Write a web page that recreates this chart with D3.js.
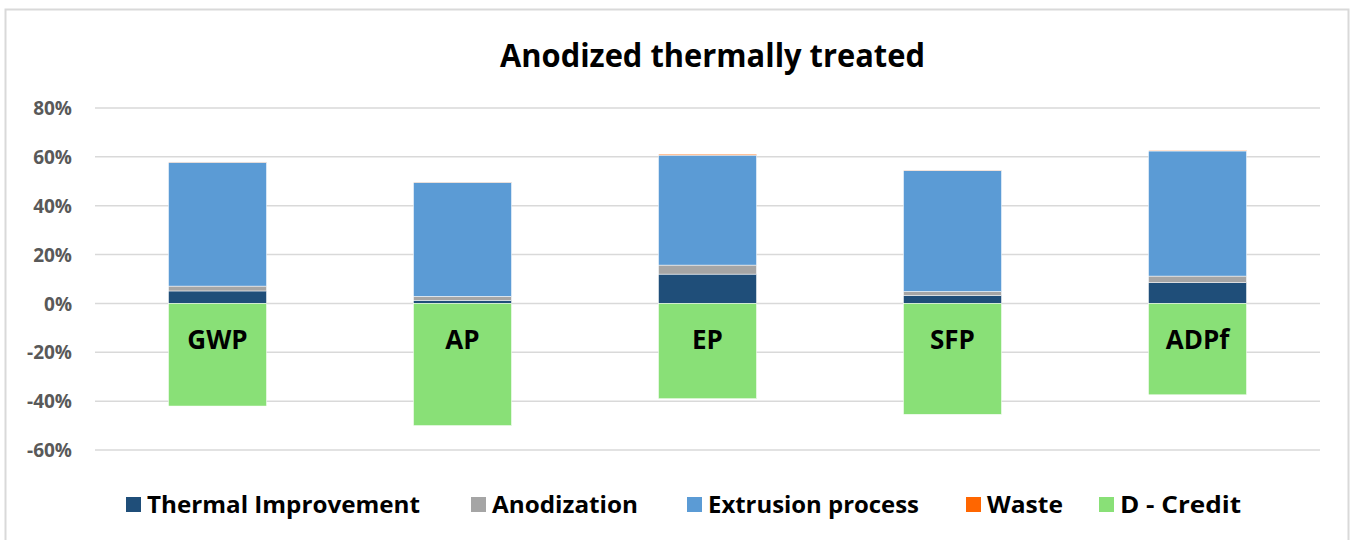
<!DOCTYPE html>
<html><head><meta charset="utf-8">
<script src="https://cdn.jsdelivr.net/npm/d3@7"></script>
<style>html,body{margin:0;padding:0;background:#fff;}svg{display:block;}</style>
</head><body><svg id="c" width="1351" height="540"></svg>
<script>
const categories = ["GWP", "AP", "EP", "SFP", "ADPf"];
const seriesNames = ["Thermal Improvement", "Anodization", "Extrusion process", "Waste", "D - Credit"];
const thermal   = [5.1, 1.3, 12.0, 3.3, 8.5];
const anodization = [2.0, 1.6, 3.7, 1.6, 2.7];
const extrusion = [50.7, 46.7, 45.0, 49.5, 51.2];
const waste     = [0.1, 0.1, 0.4, 0.1, 0.3];
const credit    = [-42.0, -50.0, -39.0, -45.4, -37.4];
const yTicks = [-60, -40, -20, 0, 20, 40, 60, 80];
const colors = ["#1F4E79", "#A5A5A5", "#5B9BD5", "#FF6600", "#89E077"];

const rows = categories.map((c, i) => ({
  cat: c,
  [seriesNames[0]]: thermal[i],
  [seriesNames[1]]: anodization[i],
  [seriesNames[2]]: extrusion[i],
  [seriesNames[3]]: waste[i],
  [seriesNames[4]]: credit[i]
}));

const svg = d3.select("#c");
const plot = {left: 95, right: 1320, top: 108, bottom: 450};

// chart border
svg.append("rect").attr("x", 5.5).attr("y", 9.5).attr("width", 1343).attr("height", 560)
  .attr("fill", "#fff").attr("stroke", "#d9d9d9").attr("stroke-width", 2);

const x = d3.scaleBand().domain(categories).range([plot.left, plot.right])
  .paddingInner(0.6).paddingOuter(0.3);
const y = d3.scaleLinear().domain([-60, 80]).range([plot.bottom, plot.top]);

// gridlines
svg.append("g").selectAll("line").data(yTicks).join("line")
  .attr("x1", plot.left).attr("x2", plot.right)
  .attr("y1", d => y(d)).attr("y2", d => y(d))
  .attr("stroke", "#d9d9d9").attr("stroke-width", 1.5);

// axis labels
const yAxis = d3.axisLeft(y).tickValues(yTicks).tickFormat(d => d + "%").tickSize(0).tickPadding(0);
const ga = svg.append("g").attr("transform", `translate(72,0)`).call(yAxis);
ga.select(".domain").remove();
ga.selectAll("text").attr("font-family", "'Open Sans', sans-serif").attr("font-weight", "bold")
  .attr("font-size", 19).attr("fill", "#595959").attr("dy", "0.35em");

// stacks
const stack = d3.stack().keys(seriesNames).offset(d3.stackOffsetDiverging);
const series = stack(rows);

svg.append("g").selectAll("g").data(series).join("g")
  .attr("fill", (d, i) => colors[i])
  .selectAll("rect").data(d => d).join("rect")
  .attr("x", d => x(d.data.cat))
  .attr("width", x.bandwidth())
  .attr("y", d => y(Math.max(d[0], d[1])))
  .attr("height", d => Math.abs(y(d[0]) - y(d[1])))
  .attr("stroke", "#ffffff").attr("stroke-width", 0.5);

// category labels
svg.append("g").selectAll("text").data(categories).join("text")
  .attr("x", d => x(d) + x.bandwidth() / 2)
  .attr("y", 349)
  .attr("text-anchor", "middle")
  .attr("font-family", "'Open Sans', sans-serif").attr("font-weight", "bold")
  .attr("font-size", 26).attr("fill", "#000")
  .text(d => d);

// title
svg.append("text").attr("x", 712.5).attr("y", 67).attr("text-anchor", "middle")
  .attr("font-family", "'Open Sans', sans-serif").attr("font-weight", "bold")
  .attr("font-size", 33).attr("fill", "#000")
  .attr("textLength", 425).attr("lengthAdjust", "spacingAndGlyphs")
  .text("Anodized thermally treated");

// legend
const legendX = [126, 471, 687, 966, 1099];
const legendW = [273, 146, 211, 76, 121];
const lg = svg.append("g").selectAll("g").data(seriesNames).join("g")
  .attr("transform", (d, i) => `translate(${legendX[i]},497)`);
lg.append("rect").attr("width", 15).attr("height", 15).attr("fill", (d, i) => colors[i]);
lg.append("text").attr("x", 21).attr("y", 16)
  .attr("font-family", "'Open Sans', sans-serif").attr("font-weight", "bold")
  .attr("font-size", 24).attr("fill", "#000")
  .attr("textLength", (d, i) => legendW[i]).attr("lengthAdjust", "spacingAndGlyphs")
  .text(d => d);
</script></body></html>
